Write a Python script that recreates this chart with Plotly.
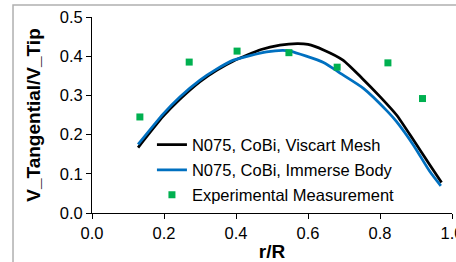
import plotly.graph_objects as go

# Data
r_viscart = [0.128, 0.198, 0.244, 0.30, 0.346, 0.393, 0.47, 0.522, 0.57, 0.60, 0.643, 0.697, 0.75, 0.80, 0.846, 0.893, 0.939, 0.971]
v_viscart = [0.167, 0.247, 0.290, 0.335, 0.364, 0.388, 0.417, 0.428, 0.432, 0.430, 0.416, 0.390, 0.344, 0.297, 0.250, 0.186, 0.122, 0.078]

r_immerse = [0.128, 0.198, 0.244, 0.30, 0.346, 0.393, 0.485, 0.53, 0.55, 0.643, 0.689, 0.754, 0.822, 0.846, 0.893, 0.939, 0.969]
v_immerse = [0.175, 0.253, 0.296, 0.339, 0.367, 0.390, 0.411, 0.415, 0.413, 0.384, 0.357, 0.318, 0.258, 0.233, 0.173, 0.105, 0.069]

r_exp = [0.133, 0.27, 0.403, 0.547, 0.681, 0.822, 0.918]
v_exp = [0.245, 0.385, 0.413, 0.409, 0.372, 0.383, 0.292]

names = ["N075, CoBi, Viscart Mesh", "N075, CoBi, Immerse Body", "Experimental Measurement"]

FONT = "Arial, Liberation Sans, sans-serif"

fig = go.Figure()
fig.add_trace(go.Scatter(x=r_viscart, y=v_viscart, mode="lines", name=names[0],
                         line=dict(color="#000000", width=2.75, shape="spline", smoothing=0.6),
                         legend="legend"))
fig.add_trace(go.Scatter(x=r_immerse, y=v_immerse, mode="lines", name=names[1],
                         line=dict(color="#0070C0", width=2.75, shape="spline", smoothing=0.6),
                         legend="legend2"))
fig.add_trace(go.Scatter(x=r_exp, y=v_exp, mode="markers", name=names[2],
                         marker=dict(symbol="square", size=7, color="#00B050"),
                         legend="legend3"))

leg_common = dict(xanchor="left", yanchor="middle", bgcolor="rgba(0,0,0,0)",
                  font=dict(family=FONT, size=16.5, color="#000000"),
                  borderwidth=0, tracegroupgap=0)

fig.update_layout(
    width=456, height=262,
    margin=dict(l=92, r=4, t=17, b=49, autoexpand=False),
    paper_bgcolor="white", plot_bgcolor="white",
    font=dict(family=FONT, size=16.5, color="#000000"),
    showlegend=True,
    legend=dict(x=0.1665, y=0.347, **leg_common),
    legend2=dict(x=0.1665, y=0.219, **leg_common),
    legend3=dict(x=0.1665, y=0.092, **leg_common),
    xaxis=dict(range=[0, 1.0], dtick=0.2, tick0=0, tickformat=".1f",
               showline=True, linecolor="#000000", linewidth=1,
               ticks="outside", ticklen=5, tickcolor="#000000",
               showgrid=False, zeroline=False, automargin=False,
               ticklabeloverflow="allow",
               tickfont=dict(family=FONT, size=16.5),
               title=dict(text="<b>r/R</b>", font=dict(family=FONT, size=19), standoff=9)),
    yaxis=dict(range=[0, 0.5], dtick=0.1, tick0=0, tickformat=".1f",
               showline=True, linecolor="#000000", linewidth=1,
               ticks="outside", ticklen=5, tickcolor="#000000",
               showgrid=False, zeroline=False, automargin=False,
               tickfont=dict(family=FONT, size=16.5),
               title=dict(text="<b>V_Tangential/V_Tip</b>", font=dict(family=FONT, size=19), standoff=14)),
    shapes=[
        dict(type="rect", xref="paper", yref="paper", x0=-0.2194, x1=1.2, y0=-0.3, y1=1.0612,
             line=dict(color="#B0B0B0", width=1.5), fillcolor="rgba(0,0,0,0)", layer="above"),
    ],
)

fig.write_html("out.html", config={"displayModeBar": False},
               post_script="document.body.style.margin='0px';")
